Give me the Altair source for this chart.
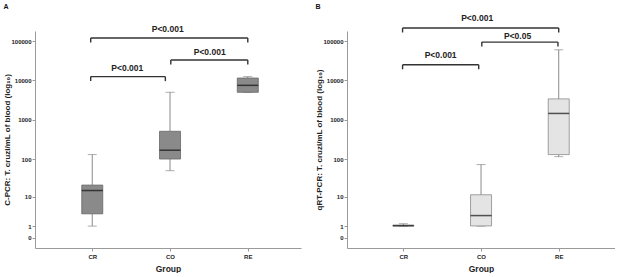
import altair as alt
import pandas as pd

groups = ["CR", "CO", "RE"]
idx = [1, 2, 3]

# Panel A: C-PCR
a_lo = [1.0, 50, 5000]
a_q1 = [3.1, 100, 5000]
a_med = [15, 168, 7500]
a_q3 = [21, 510, 11500]
a_hi = [130, 5000, 12500]

# Panel B: qRT-PCR
b_lo = [0.98, 1.0, 115]
b_q1 = [1.0, 1.02, 130]
b_med = [1.05, 2.7, 1450]
b_q3 = [1.12, 11.5, 3400]
b_hi = [1.3, 72, 60000]

# significance brackets
a_br_x1 = [0.98, 2.01, 0.98]
a_br_x2 = [3.0, 3.0, 1.94]
a_br_y = [120000, 33000, 12500]
a_br_label = ["P<0.001", "P<0.001", "P<0.001"]
a_br_lx = [1.97, 2.51, 1.45]
a_br_ly = [197000, 54000, 20500]

b_br_x1 = [0.99, 2.01, 0.99]
b_br_x2 = [3.0, 2.99, 1.97]
b_br_y = [215000, 94000, 25000]
b_br_label = ["P<0.001", "P<0.05", "P<0.001"]
b_br_lx = [1.95, 2.47, 1.48]
b_br_ly = [386000, 131000, 45500]

y_ticks = [0, 1, 10, 100, 1000, 10000, 100000]
y_domain = [-0.8, 180000]

FONT = "Liberation Sans"
label_expr = "[" + ",".join("'%s'" % g for g in groups) + "][datum.value - 1]"


def panel(letter, ytitle, lo, q1, med, q3, hi, x1, x2, by, blab, blx, bly,
          xdom, width, fill, stroke):
    box = pd.DataFrame({"group": groups, "idx": idx, "lo": lo, "q1": q1,
                        "med": med, "q3": q3, "hi": hi})
    br = pd.DataFrame({"x1": x1, "x2": x2, "by": by, "label": blab,
                       "lx": blx, "ly": bly})

    xscale = alt.Scale(domain=xdom, nice=False, zero=False)
    yscale = alt.Scale(type="symlog", constant=1, domain=y_domain,
                       nice=False, zero=False)
    xaxis = alt.Axis(values=idx, labelExpr=label_expr, title="Group",
                     grid=False, domainColor="#9a9a9a", tickColor="#9a9a9a",
                     tickSize=3, labelFont=FONT, labelFontSize=6,
                     labelFontWeight="bold", labelColor="#222",
                     labelPadding=2, titleFont=FONT, titleFontSize=8.5,
                     titleFontWeight="bold", titleColor="#222",
                     titlePadding=5)
    yaxis = alt.Axis(values=y_ticks, format="d", title=ytitle, grid=False,
                     domainColor="#9a9a9a", tickColor="#9a9a9a", tickSize=3,
                     labelFont=FONT, labelFontSize=6, labelFontWeight="bold",
                     labelColor="#222", labelPadding=1, titleFont=FONT,
                     titleFontSize=8, titleFontWeight="bold",
                     titleColor="#222", titlePadding=-1)

    def X(f):
        return alt.X(f, type="quantitative", scale=xscale, axis=xaxis)

    def Y(f):
        return alt.Y(f, type="quantitative", scale=yscale, axis=yaxis)

    base = alt.Chart(box)
    w_low = base.mark_rule(color="#8a8a8a", strokeWidth=1).encode(
        x=X("idx"), y=Y("lo"), y2="q1")
    w_high = base.mark_rule(color="#8a8a8a", strokeWidth=1).encode(
        x=X("idx"), y=Y("q3"), y2="hi")
    cap_lo = base.mark_tick(orient="horizontal", size=9, thickness=1,
                            color="#8a8a8a").encode(x=X("idx"), y=Y("lo"))
    cap_hi = base.mark_tick(orient="horizontal", size=9, thickness=1,
                            color="#8a8a8a").encode(x=X("idx"), y=Y("hi"))
    boxes = base.mark_bar(size=21, orient="vertical", fill=fill,
                          stroke=stroke, strokeWidth=0.8).encode(
        x=X("idx"), y=Y("q1"), y2="q3")
    medians = base.mark_tick(orient="horizontal", size=21, thickness=1.5,
                             color="#111").encode(x=X("idx"), y=Y("med"))

    bb = alt.Chart(br)
    hline = bb.mark_rule(color="#333", strokeWidth=1.4).encode(
        x=X("x1"), x2="x2", y=Y("by"))
    leg1 = bb.mark_rule(color="#333", strokeWidth=1.4, y2Offset=4.5).encode(
        x=X("x1"), y=Y("by"), y2="by")
    leg2 = bb.mark_rule(color="#333", strokeWidth=1.4, y2Offset=4.5).encode(
        x=X("x2"), y=Y("by"), y2="by")
    txt = bb.mark_text(font=FONT, fontSize=8.5, fontWeight="bold",
                       color="#222", baseline="middle").encode(
        x=X("lx"), y=Y("ly"), text="label")

    let = alt.Chart(pd.DataFrame({"t": [letter]})).mark_text(
        font=FONT, fontSize=7, fontWeight="bold", color="#111",
        align="center", baseline="middle").encode(
        x=alt.value(-29), y=alt.value(-24), text="t")

    return alt.layer(w_low, w_high, cap_lo, cap_hi, boxes, medians,
                     hline, leg1, leg2, txt, let).properties(
        width=width, height=217)


pa = panel("A", "C-PCR: T. cruzi/mL of blood (log\u2081\u2080)",
           a_lo, a_q1, a_med, a_q3, a_hi,
           a_br_x1, a_br_x2, a_br_y, a_br_label, a_br_lx, a_br_ly,
           [0.328, 3.62], 266, "#8a8a8a", "#666666")
pb = panel("B", "qRT-PCR: T. cruzi/mL of blood (log\u2081\u2080)",
           b_lo, b_q1, b_med, b_q3, b_hi,
           b_br_x1, b_br_x2, b_br_y, b_br_label, b_br_lx, b_br_ly,
           [0.339, 3.66], 268, "#e4e4e4", "#8a8a8a")

chart = alt.hconcat(pa, pb, spacing=14).properties(
    padding={"left": 3, "top": 3, "right": 0, "bottom": 0},
    background="white",
).configure_view(stroke=None)

chart.save("out.html", embed_options={"renderer": "svg", "actions": False})
